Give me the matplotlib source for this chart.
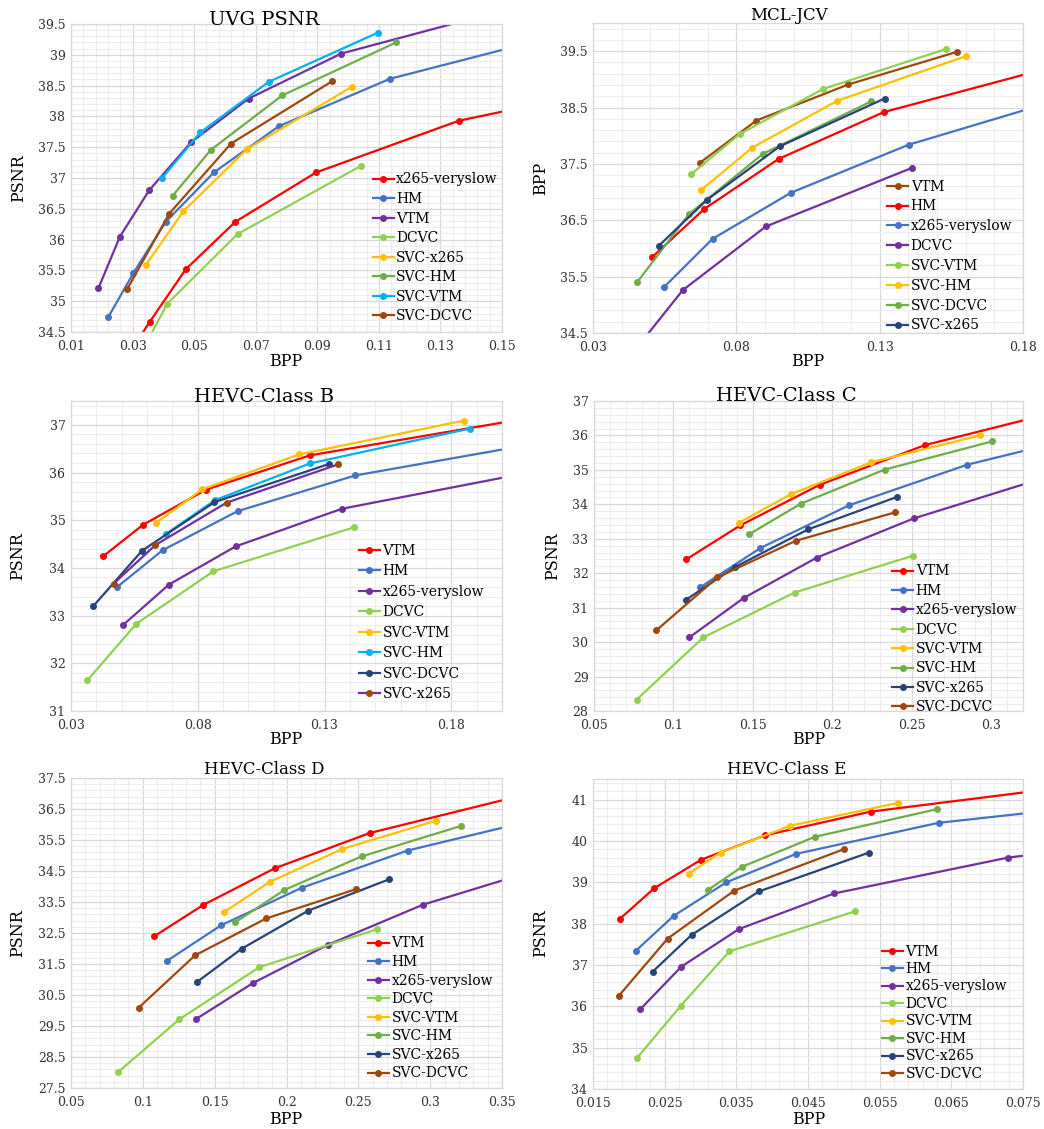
import numpy as np
import matplotlib
matplotlib.use('Agg')
import matplotlib.pyplot as plt

plt.rcParams['font.family'] = ['DejaVu Serif']

# ---------------- data (BPP, PSNR) ----------------
# UVG
uvg_names = ['x265-veryslow', 'HM', 'VTM', 'DCVC', 'SVC-x265', 'SVC-HM', 'SVC-VTM', 'SVC-DCVC']
uvg_bpp = [
    [0.027, 0.0355, 0.0473, 0.0634, 0.0896, 0.136, 0.20],
    [0.0221, 0.0303, 0.0408, 0.0564, 0.0775, 0.1136, 0.175],
    [0.0189, 0.0259, 0.0354, 0.0490, 0.0677, 0.0978, 0.16],
    [0.031, 0.0413, 0.0641, 0.1043],
    [0.0342, 0.0465, 0.0672, 0.1012],
    [0.0430, 0.0555, 0.0786, 0.1156],
    [0.0396, 0.0520, 0.0742, 0.1097],
    [0.0282, 0.0419, 0.0620, 0.0948],
]
uvg_psnr = [
    [34.0, 34.66, 35.52, 36.29, 37.09, 37.93, 38.6],
    [34.74, 35.46, 36.29, 37.09, 37.84, 38.61, 39.4],
    [35.21, 36.05, 36.80, 37.58, 38.29, 39.02, 39.85],
    [34.0, 34.96, 36.09, 37.20],
    [35.58, 36.46, 37.47, 38.48],
    [36.71, 37.46, 38.34, 39.20],
    [37.00, 37.74, 38.56, 39.36],
    [35.19, 36.42, 37.56, 38.57],
]

# MCL-JCV
mcl_names = ['VTM', 'HM', 'x265-veryslow', 'DCVC', 'SVC-VTM', 'SVC-HM', 'SVC-DCVC', 'SVC-x265']
mcl_bpp = [
    [0.0673, 0.0870, 0.1191, 0.1571],
    [0.0507, 0.0688, 0.0948, 0.1315, 0.20],
    [0.0547, 0.0717, 0.0991, 0.1401, 0.20],
    [0.040, 0.0613, 0.0903, 0.1413],
    [0.0643, 0.0812, 0.1103, 0.1533],
    [0.0678, 0.0856, 0.1152, 0.1600],
    [0.0454, 0.0635, 0.0893, 0.1271],
    [0.0530, 0.0697, 0.0951, 0.1317],
]
mcl_psnr = [
    [37.52, 38.27, 38.91, 39.49],
    [35.85, 36.70, 37.59, 38.42, 39.35],
    [35.31, 36.17, 36.99, 37.84, 38.75],
    [33.9, 35.26, 36.39, 37.43],
    [37.32, 38.03, 38.83, 39.54],
    [37.04, 37.79, 38.62, 39.41],
    [35.40, 36.61, 37.68, 38.61],
    [36.05, 36.86, 37.81, 38.66],
]

# HEVC Class B
b_names = ['VTM', 'HM', 'x265-veryslow', 'DCVC', 'SVC-VTM', 'SVC-HM', 'SVC-DCVC', 'SVC-x265']
b_bpp = [
    [0.0428, 0.0583, 0.0832, 0.1242, 0.25],
    [0.0482, 0.0661, 0.0957, 0.1422, 0.25],
    [0.0507, 0.0686, 0.0949, 0.1368, 0.24],
    [0.0364, 0.0558, 0.0862, 0.1416],
    [0.0637, 0.0818, 0.1200, 0.1850],
    [0.0674, 0.0868, 0.1242, 0.1872],
    [0.0388, 0.0580, 0.0866, 0.1318],
    [0.0468, 0.0633, 0.0914, 0.1353],
]
b_psnr = [
    [34.25, 34.90, 35.64, 36.36, 37.5],
    [33.60, 34.37, 35.19, 35.94, 36.95],
    [32.81, 33.65, 34.45, 35.24, 36.30],
    [31.64, 32.83, 33.93, 34.85],
    [34.95, 35.65, 36.38, 37.09],
    [34.71, 35.42, 36.19, 36.92],
    [33.20, 34.36, 35.38, 36.18],
    [33.67, 34.48, 35.37, 36.17],
]

# HEVC Class C
c_names = ['VTM', 'HM', 'x265-veryslow', 'DCVC', 'SVC-VTM', 'SVC-HM', 'SVC-x265', 'SVC-DCVC']
c_bpp = [
    [0.1080, 0.1421, 0.1922, 0.2583, 0.36],
    [0.1168, 0.1547, 0.2104, 0.2849, 0.36],
    [0.1101, 0.1442, 0.1901, 0.2512, 0.36],
    [0.0768, 0.1189, 0.1763, 0.2508],
    [0.1415, 0.1737, 0.2244, 0.2929],
    [0.1476, 0.1802, 0.2330, 0.3008],
    [0.1076, 0.1388, 0.1846, 0.2410],
    [0.0892, 0.1277, 0.1769, 0.2397],
]
c_psnr = [
    [32.40, 33.39, 34.57, 35.72, 36.90],
    [31.59, 32.73, 33.97, 35.15, 36.0],
    [30.14, 31.28, 32.45, 33.59, 35.15],
    [28.33, 30.14, 31.44, 32.51],
    [33.47, 34.29, 35.22, 36.00],
    [33.13, 34.02, 35.01, 35.83],
    [31.22, 32.18, 33.27, 34.22],
    [30.34, 31.88, 32.94, 33.77],
]

# HEVC Class D
d_names = ['VTM', 'HM', 'x265-veryslow', 'DCVC', 'SVC-VTM', 'SVC-HM', 'SVC-x265', 'SVC-DCVC']
d_bpp = [
    [0.1078, 0.1422, 0.1919, 0.2583, 0.40],
    [0.1171, 0.1545, 0.2107, 0.2843, 0.40],
    [0.1369, 0.1768, 0.2288, 0.2948, 0.40],
    [0.0827, 0.1255, 0.1812, 0.2630],
    [0.1564, 0.1884, 0.2388, 0.3038],
    [0.1645, 0.1986, 0.2523, 0.3212],
    [0.1380, 0.1687, 0.2151, 0.2713],
    [0.0971, 0.1364, 0.1859, 0.2481],
]
d_psnr = [
    [32.39, 33.41, 34.59, 35.73, 37.35],
    [31.61, 32.75, 33.96, 35.16, 36.45],
    [29.72, 30.89, 32.12, 33.41, 34.90],
    [28.01, 29.72, 31.40, 32.62],
    [33.17, 34.15, 35.21, 36.12],
    [32.85, 33.89, 34.97, 35.95],
    [30.93, 31.99, 33.22, 34.23],
    [30.09, 31.78, 32.97, 33.91],
]

# HEVC Class E
e_names = ['VTM', 'HM', 'x265-veryslow', 'DCVC', 'SVC-VTM', 'SVC-HM', 'SVC-x265', 'SVC-DCVC']
e_bpp = [
    [0.01877, 0.02356, 0.03012, 0.03905, 0.05374, 0.09],
    [0.02095, 0.02626, 0.0336, 0.04337, 0.06323, 0.09],
    [0.0216, 0.02733, 0.03537, 0.04863, 0.07295, 0.09],
    [0.02114, 0.02728, 0.03402, 0.0516],
    [0.02835, 0.03281, 0.04253, 0.05751],
    [0.03109, 0.03584, 0.04593, 0.0630],
    [0.02333, 0.02877, 0.03816, 0.05351],
    [0.01863, 0.02542, 0.03472, 0.04998],
]
e_psnr = [
    [38.12, 38.86, 39.55, 40.14, 40.71, 41.5],
    [37.34, 38.19, 39.00, 39.69, 40.44, 40.95],
    [35.93, 36.96, 37.87, 38.73, 39.60, 39.95],
    [34.75, 36.02, 37.33, 38.30],
    [39.21, 39.72, 40.37, 40.92],
    [38.82, 39.38, 40.10, 40.77],
    [36.84, 37.73, 38.78, 39.72],
    [36.26, 37.64, 38.80, 39.80],
]

# ---------------- styles ----------------
R = '#FF0000'; B = '#4472C4'; P = '#7030A0'; LG = '#92D050'; Y = '#FFC000'
G = '#70AD47'; C = '#00B0F0'; BR = '#9E480E'; N = '#264478'

uvg_colors = [R, B, P, LG, Y, G, C, BR]
mcl_colors = [BR, R, B, P, LG, Y, G, N]
b_colors = [R, B, P, LG, Y, C, N, P]
b_marker_colors = [R, B, P, LG, Y, C, N, BR]
cde_colors = [R, B, P, LG, Y, G, N, BR]

W, H = 1044, 1129
fig = plt.figure(figsize=(W / 100, H / 100), dpi=100)


def fx(px):
    return px / W


def fy(py):
    return 1 - py / H


panels = [
    dict(rect=(71, 24, 502, 332), xlim=(0.01, 0.15), ylim=(34.5, 39.5),
         xt=(0.01, 0.15, 0.02), yt=(34.5, 39.5, 0.5), ymin_start=34.5,
         title='UVG PSNR', tpos=(264, 25), tsize=14, ylabel='PSNR', ylpos=(19, 178),
         xlpos=(286, 362), leg=(0.70, 0.518), ls=0.40,
         names=uvg_names, bpp=uvg_bpp, psnr=uvg_psnr, colors=uvg_colors, mcolors=uvg_colors),
    dict(rect=(593, 23, 1023, 333), xlim=(0.03, 0.18), ylim=(34.5, 40.0),
         xt=(0.03, 0.18, 0.05), yt=(34.5, 39.5, 1.0), ymin_start=34.5,
         title='MCL-JCV', tpos=(789, 20), tsize=12, ylabel='BPP', ylpos=(541, 178),
         xlpos=(808, 362), leg=(0.684, 0.495), ls=0.42,
         names=mcl_names, bpp=mcl_bpp, psnr=mcl_psnr, colors=mcl_colors, mcolors=mcl_colors),
    dict(rect=(71, 401, 502, 711), xlim=(0.03, 0.20), ylim=(31, 37.5),
         xt=(0.03, 0.18, 0.05), yt=(31, 37, 1.0), ymin_start=31,
         title='HEVC-Class B', tpos=(264, 402), tsize=14, ylabel='PSNR', ylpos=(18, 556),
         xlpos=(286, 740), leg=(0.668, 0.540), ls=0.47,
         names=b_names, bpp=b_bpp, psnr=b_psnr, colors=b_colors, mcolors=b_marker_colors),
    dict(rect=(594, 401, 1023, 711), xlim=(0.05, 0.32), ylim=(28, 37),
         xt=(0.05, 0.30, 0.05), yt=(28, 37, 1.0), ymin_start=28,
         title='HEVC-Class C', tpos=(786, 401), tsize=14, ylabel='PSNR', ylpos=(553, 556),
         xlpos=(809, 740), leg=(0.695, 0.473), ls=0.39,
         names=c_names, bpp=c_bpp, psnr=c_psnr, colors=cde_colors, mcolors=cde_colors),
    dict(rect=(71, 778, 502, 1088), xlim=(0.05, 0.35), ylim=(27.5, 37.5),
         xt=(0.05, 0.35, 0.05), yt=(27.5, 37.5, 1.0), ymin_start=27.5,
         title='HEVC-Class D', tpos=(264, 774), tsize=12, ylabel='PSNR', ylpos=(18, 933),
         xlpos=(286, 1119), leg=(0.689, 0.489), ls=0.33,
         names=d_names, bpp=d_bpp, psnr=d_psnr, colors=cde_colors, mcolors=cde_colors),
    dict(rect=(593, 779, 1023, 1089), xlim=(0.015, 0.075), ylim=(34, 41.5),
         xt=(0.015, 0.075, 0.01), yt=(34, 41, 1.0), ymin_start=34,
         title='HEVC-Class E', tpos=(787, 774), tsize=12, ylabel='PSNR', ylpos=(541, 933),
         xlpos=(809, 1119), leg=(0.672, 0.466), ls=0.25,
         names=e_names, bpp=e_bpp, psnr=e_psnr, colors=cde_colors, mcolors=cde_colors),
]

for p in panels:
    l, t, r, b = p['rect']
    ax = fig.add_axes([fx(l), fy(b), (r - l) / W, (b - t) / H])

    for name, xs, ys, col, mcol in zip(p['names'], p['bpp'], p['psnr'], p['colors'], p['mcolors']):
        ax.plot(xs, ys, '-o', color=col, mfc=mcol, mec=mcol, lw=1.6, ms=4, label=name)

    ax.set_xlim(*p['xlim'])
    ax.set_ylim(*p['ylim'])

    x0, x1, xs_ = p['xt']
    y0, y1, ys_ = p['yt']
    xmaj = np.round(np.arange(x0, x1 + xs_ / 2, xs_), 4)
    ymaj = np.round(np.arange(y0, y1 + ys_ / 2, ys_), 2)
    xmin_ = np.round(np.arange(p['xlim'][0], p['xlim'][1] + 1e-9, xs_ / 5), 4)
    ymin_ = np.round(np.arange(p['ymin_start'], p['ylim'][1] + 1e-9, ys_ / 5), 2)
    ax.set_xticks(xmaj)
    ax.set_yticks(ymaj)
    ax.set_xticks(xmin_, minor=True)
    ax.set_yticks(ymin_, minor=True)
    ax.set_xticklabels(['%g' % v for v in xmaj])
    ax.set_yticklabels(['%g' % v for v in ymaj])

    ax.grid(which='minor', color='#EDEDED', lw=0.8)
    ax.grid(which='major', color='#D9D9D9', lw=0.9)
    ax.set_axisbelow(True)
    for s in ax.spines.values():
        s.set_color('#D9D9D9')
        s.set_linewidth(0.9)
    ax.tick_params(which='both', length=0)
    ax.tick_params(axis='x', pad=6, labelsize=9, labelcolor='#333333')
    ax.tick_params(axis='y', pad=4, labelsize=9, labelcolor='#333333')

    ax.legend(loc='upper left', bbox_to_anchor=p['leg'], frameon=False,
              fontsize=10, handlelength=1.5, handletextpad=0.2,
              labelspacing=p['ls'], borderpad=0, borderaxespad=0, numpoints=1)

    fig.text(fx(p['tpos'][0]), fy(p['tpos'][1]), p['title'], ha='center', va='baseline',
             fontsize=p['tsize'], color='black')
    fig.text(fx(p['ylpos'][0]), fy(p['ylpos'][1]), p['ylabel'], ha='center', va='center',
             rotation=90, fontsize=11.5, color='black')
    fig.text(fx(p['xlpos'][0]), fy(p['xlpos'][1]), 'BPP', ha='center', va='center',
             fontsize=11.5, color='black')

fig.savefig('out.png', dpi=100)
